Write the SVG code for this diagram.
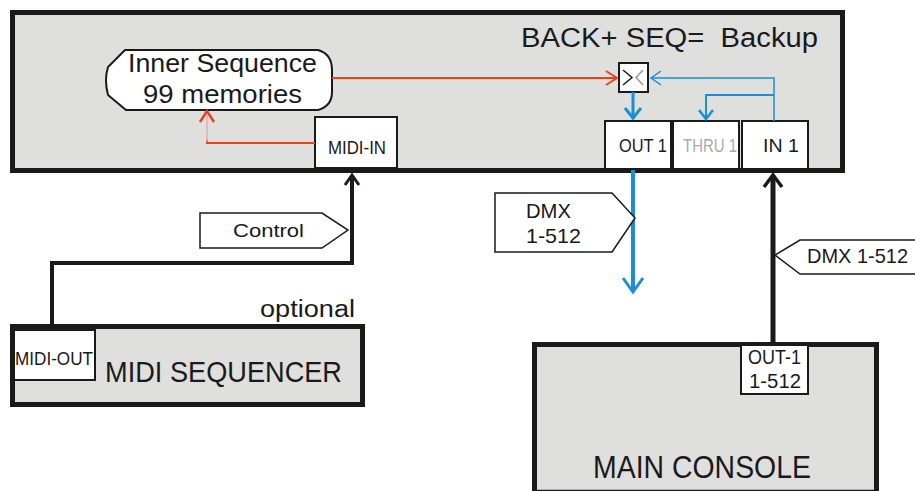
<svg xmlns="http://www.w3.org/2000/svg" width="915" height="491" viewBox="0 0 915 491">
<defs>
<style>
.t{font-family:"Liberation Sans",Arial,sans-serif;fill:#1a1a1a}
.box{fill:#dfdfde;stroke:#1a1a1a;stroke-width:5}
.port{fill:#fff;stroke:#1a1a1a;stroke-width:2}
.lbl{fill:#fff;stroke:#1a1a1a;stroke-width:1.5}
.blue{fill:none;stroke:#1b8ed8}
.red{fill:none;stroke:#e8421c}
.blk{fill:none;stroke:#1a1a1a}
</style>
</defs>
<g id="backup-unit">
<rect class="box" x="12.5" y="12.5" width="830" height="158"/>
<text class="t" x="521" y="47" font-size="27" xml:space="preserve" textLength="297" lengthAdjust="spacingAndGlyphs">BACK+ SEQ=  Backup</text>
</g>
<g id="inner-sequence">
<path d="M125,50 L318,50 Q332,54 332,70 L332,92 Q332,106 318,110 L126,110 L108,95 Q104,80 108,67 Z" fill="#fff" stroke="#1a1a1a" stroke-width="2"/>
<text class="t" x="128" y="72" font-size="25" textLength="189" lengthAdjust="spacingAndGlyphs">Inner Sequence</text>
<text class="t" x="143" y="103" font-size="25" textLength="159" lengthAdjust="spacingAndGlyphs">99 memories</text>
</g>
<g id="midi-in">
<rect class="port" x="315" y="117" width="82" height="51"/>
<text class="t" x="328" y="154" font-size="19" textLength="58" lengthAdjust="spacingAndGlyphs">MIDI-IN</text>
</g>
<g id="switch">
<rect class="port" x="619" y="63" width="29" height="29"/>
<polyline points="623,70 632,77.5 623,85" fill="none" stroke="#1a1a1a" stroke-width="1.5"/>
<polyline points="643,70 636,77.5 643,85" fill="none" stroke="#999" stroke-width="1.5"/>
</g>
<g id="out1">
<rect class="port" x="605" y="121" width="66" height="48"/>
<text class="t" x="619" y="152" font-size="18" textLength="48" lengthAdjust="spacingAndGlyphs">OUT 1</text>
</g>
<g id="thru1">
<rect class="port" x="673" y="121" width="66" height="48"/>
<text class="t" x="683" y="152" font-size="18" style="fill:#aaa" textLength="54" lengthAdjust="spacingAndGlyphs">THRU 1</text>
</g>
<g id="in1">
<rect class="port" x="742" y="121" width="66" height="48"/>
<text class="t" x="763" y="152" font-size="18" textLength="36" lengthAdjust="spacingAndGlyphs">IN 1</text>
</g>
<g id="midi-sequencer">
<rect class="box" x="12.5" y="326.5" width="350" height="78"/>
<text class="t" x="260" y="317" font-size="23" textLength="95" lengthAdjust="spacingAndGlyphs">optional</text>
<rect class="port" x="14" y="330" width="81" height="50" stroke-width="1.5"/>
<text class="t" x="15" y="365" font-size="18" textLength="78" lengthAdjust="spacingAndGlyphs">MIDI-OUT</text>
<text class="t" x="105" y="382" font-size="30" textLength="237" lengthAdjust="spacingAndGlyphs">MIDI SEQUENCER</text>
</g>
<g id="main-console">
<path d="M534.5,495 L534.5,344.5 L876.5,344.5 L876.5,495" fill="#dfdfde" stroke="#1a1a1a" stroke-width="5"/>
<line x1="534" y1="490.5" x2="877" y2="490.5" stroke="#1a1a1a" stroke-width="1.5"/>
<rect class="port" x="741" y="345" width="67" height="49" stroke-width="1.5"/>
<text class="t" x="748" y="364" font-size="20" textLength="53" lengthAdjust="spacingAndGlyphs">OUT-1</text>
<text class="t" x="749" y="388" font-size="20" textLength="52" lengthAdjust="spacingAndGlyphs">1-512</text>
<text class="t" x="593" y="478" font-size="31" textLength="218" lengthAdjust="spacingAndGlyphs">MAIN CONSOLE</text>
</g>
<g id="connectors">
<line class="red" x1="332" y1="78" x2="617" y2="78" stroke-width="2"/>
<polyline class="red" points="606,71 617,78 606,85" stroke-width="2"/>
<polyline points="315,143 207,143 207,140" fill="none" stroke="#e8421c" stroke-width="2"/>
<line x1="207" y1="142" x2="207" y2="113" stroke="#f0a0a0" stroke-width="1.2"/>
<polyline class="red" points="200,122 207,111 214,122" stroke-width="2.5"/>
<polyline class="blue" points="774,121 774,78 651,78" stroke-width="1.5"/>
<polyline class="blue" points="661,71 651,78 661,85" stroke-width="1.5"/>
<polyline class="blue" points="774,95 706,95 706,119" stroke-width="2"/>
<polyline class="blue" points="699,110 706,119 713,110" stroke-width="2.5"/>
<line class="blue" x1="633" y1="92" x2="633" y2="119" stroke-width="3"/>
<polyline class="blue" points="625,108 633,118 641,108" stroke-width="3"/>
<line class="blue" x1="633" y1="170" x2="633" y2="291" stroke-width="4"/>
<polyline class="blue" points="623,278 633,292 643,278" stroke-width="3"/>
<polyline class="blk" points="52,326 52,263 352,263 352,176" stroke-width="4"/>
<polyline class="blk" points="345,185 352,175 359,185" stroke-width="3"/>
<line class="blk" x1="773" y1="343" x2="773" y2="176" stroke-width="5"/>
<polyline class="blk" points="764,187 773,175 782,187" stroke-width="3.5"/>
</g>
<g id="label-control">
<path class="lbl" d="M200,213 L322,213 L348,230 L322,248 L200,248 Z"/>
<text class="t" x="233" y="237" font-size="19" textLength="71" lengthAdjust="spacingAndGlyphs">Control</text>
</g>
<g id="label-dmx-out">
<path class="lbl" d="M495,193 L612,193 L635,218 L612,252 L495,252 Z"/>
<text class="t" x="526" y="218" font-size="21" textLength="45" lengthAdjust="spacingAndGlyphs">DMX</text>
<text class="t" x="526" y="243" font-size="21" textLength="55" lengthAdjust="spacingAndGlyphs">1-512</text>
</g>
<g id="label-dmx-in">
<path class="lbl" d="M920,240 L800,240 L775,255 L800,274 L920,274"/>
<text class="t" x="807" y="263" font-size="21" textLength="101" lengthAdjust="spacingAndGlyphs">DMX 1-512</text>
</g>
</svg>
